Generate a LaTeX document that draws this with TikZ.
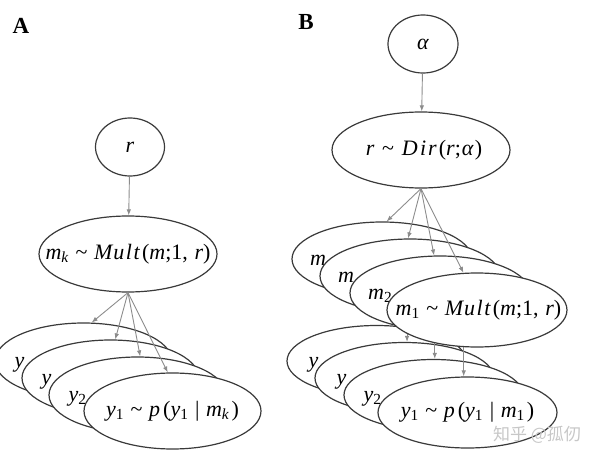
\documentclass[tikz,border=0pt]{standalone}
\usepackage{fontspec}
\setmainfont{Liberation Serif}
\newfontfamily\cjkfont{Noto Sans CJK SC}
\usetikzlibrary{shapes.geometric,arrows.meta}
\newcommand{\vi}[1]{\textit{#1}}
\newcommand{\tld}{\textasciitilde}
\newcommand{\sepr}{\hspace{0.3em}}
\newcommand{\Mult}{\vi{M\kern1pt u\kern1.5pt l\kern1.5pt t}\kern2pt}
\newcommand{\ytxt}[2]{\vi{y}\textsubscript{#1}\sepr\tld\sepr\vi{p}\kern3pt(\vi{y}\textsubscript{#1}\sepr|\sepr\vi{m}\textsubscript{#2}\kern2pt)}
\newcommand{\mtxt}[1]{\vi{m}\textsubscript{#1}\sepr\tld\sepr\Mult(\vi{m};1,\sepr\vi{r})}
\definecolor{edge}{HTML}{3A3A3A}
\definecolor{arrowc}{HTML}{8C8C8C}
\begin{document}
\begin{tikzpicture}[x=1pt,y=-1pt,
  ell/.style={draw=edge, line width=1.2pt, fill=white, ellipse, inner sep=0pt},
  small/.style={ell, minimum width=69pt, minimum height=58pt},
  big/.style={ell, minimum width=178pt, minimum height=76pt},
  txt/.style={inner sep=0pt, font=\fontsize{22}{26}\selectfont},
  back/.style={txt, anchor=base west},
  panel/.style={inner sep=0pt, font=\fontsize{23}{26}\selectfont\bfseries},
  arr/.style={draw=arrowc, line width=0.9pt, -{Latex[length=6pt,width=4.5pt]}},
  wm/.style={inner sep=0pt, text=black!22, font=\fontsize{17}{20}\selectfont\cjkfont}]
\useasboundingbox (0,0) rectangle (600,460);

% ---------------- Panel A ----------------
\node[panel] (labA) at (21,26) {A};
\node[small] (r) at (130,147) {};
\node[txt] (rt) at (r) {\vi{r}};
\node[big] (mk) at (128,254) {};
\node[txt] (mkt) at (mk) {\mtxt{\vi{k}}};
\draw[arr] (r) -- (mk);

\node[big, minimum width=177pt] (ya4) at (83.5,361) {};
\node[back] (ya4t) at ([shift={(-69,6)}]ya4.center) {\vi{y}};
\node[big, minimum width=177pt] (ya3) at (110.5,378) {};
\node[back] (ya3t) at ([shift={(-69,6)}]ya3.center) {\vi{y}};
\node[big, minimum width=177pt] (ya2) at (137.5,395) {};
\node[back] (ya2t) at ([shift={(-69,6)}]ya2.center) {\vi{y}\textsubscript{2}};
\node[big, minimum width=177pt] (ya1) at (172.5,411) {};
\node[txt] (ya1t) at (ya1) {\ytxt{1}{\vi{k}}};

\draw[arr] (mk.south) -- (ya4.78);
\draw[arr] (mk.south) -- (ya3.83);
\draw[arr] (mk.south) -- (ya2.86);
\draw[arr] (mk.south) -- (ya1.97);

% ---------------- Panel B ----------------
\node[panel] (labB) at (306,22) {B};
\node[small, minimum width=70pt] (al) at (423,44) {};
\node[txt] (alt) at (al) {\vi{α}};
\node[big] (dir) at (421,150) {};
\node[txt] (dirt) at ([xshift=3pt]dir.center) {\vi{r}\hspace{0.35em}\tld\hspace{0.35em}\vi{D\kern2.5pt i\kern2pt r}\kern2pt(\vi{r};\kern1pt\vi{α}\kern1pt)};
\draw[arr] (al) -- (dir);

\coordinate (cm4) at (382,259);
\coordinate (cm3) at (410,276);
\coordinate (cm2) at (440,293);
\coordinate (cm1) at (477,310);

% y stack
\node[big, minimum width=179pt, minimum height=71pt] (yb4) at (376.5,361) {};
\node[back] (yb4t) at ([shift={(-68,6)}]yb4.center) {\vi{y}};
\node[big, minimum width=179pt, minimum height=71pt] (yb3) at (404.5,378) {};
\node[back] (yb3t) at ([shift={(-68,6)}]yb3.center) {\vi{y}};
\node[big, minimum width=179pt, minimum height=71pt] (yb2) at (433.5,395) {};
\node[back] (yb2t) at ([shift={(-70,6)}]yb2.center) {\vi{y}\textsubscript{2}};
\node[big, minimum width=179pt, minimum height=71pt] (yb1) at (467.5,412.5) {};
\node[txt] (yb1t) at (yb1) {\ytxt{1}{1}};

% m -> y arrows (partly hidden by the m stack)
\draw[arr] (yb3.86 |- cm3) -- (yb3.86);
\draw[arr] (yb2.88 |- cm2) -- (yb2.88);
\draw[arr] (yb1.96 |- cm1) -- (yb1.96);

% m stack
\node[big, minimum width=180pt, minimum height=74pt] (mb4) at (cm4) {};
\node[back] (mb4t) at ([shift={(-72,6)}]mb4.center) {\vi{m}};
\node[big, minimum width=180pt, minimum height=74pt] (mb3) at (cm3) {};
\node[back] (mb3t) at ([shift={(-72,6)}]mb3.center) {\vi{m}};
\node[big, minimum width=180pt, minimum height=74pt] (mb2) at (cm2) {};
\node[back] (mb2t) at ([shift={(-72,6)}]mb2.center) {\vi{m}\textsubscript{2}};
\node[big, minimum width=180pt, minimum height=74pt] (mb1) at (cm1) {};
\node[txt] (mb1t) at ([xshift=1.5pt]mb1.center) {\mtxt{1}};

\draw[arr] (dir.south) -- (mb4.83);
\draw[arr] (dir.south) -- (mb3.93);
\draw[arr] (dir.south) -- (mb2.99);
\draw[arr] (dir.south) -- (mb1.110);

% watermark
\node[wm] (wmk) at (537,435) {知乎 @孤仞};
\end{tikzpicture}
\end{document}
